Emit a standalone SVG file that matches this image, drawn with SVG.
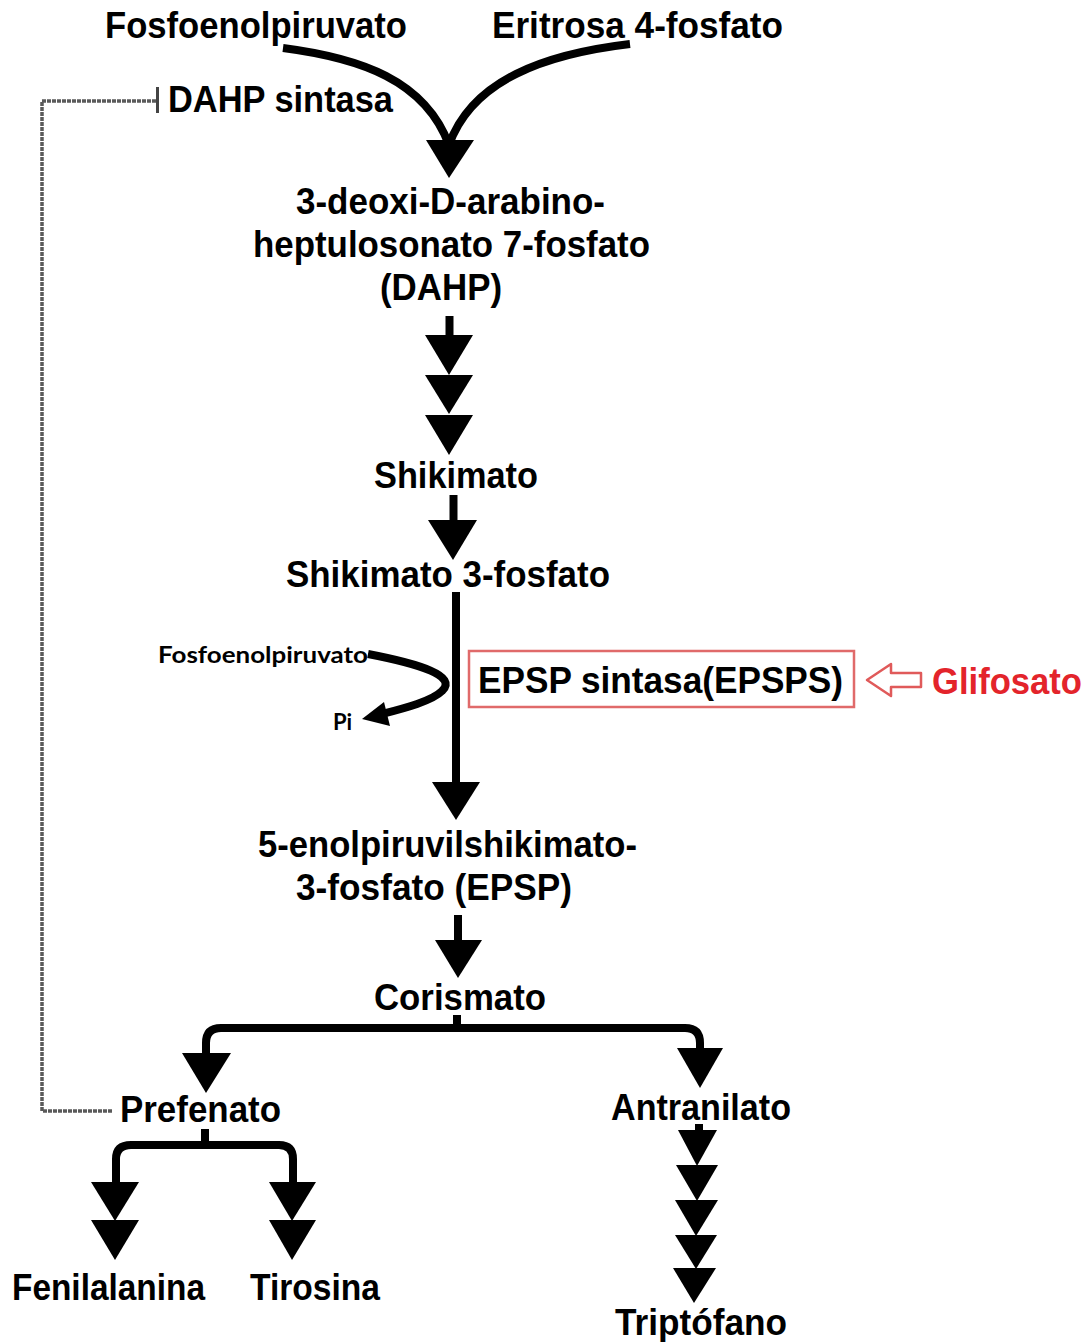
<svg xmlns="http://www.w3.org/2000/svg" width="1088" height="1342" viewBox="0 0 1088 1342">
<style>
.t{font-family:"Liberation Sans",Arial,sans-serif;font-weight:bold;font-size:36px;fill:#000}
.s{font-family:Lato,"Liberation Sans",sans-serif;font-weight:bold;font-size:22px;fill:#000}
.r{fill:#e3242b}
.ln{fill:none;stroke:#000;stroke-width:8}
.hd{fill:#000}
.inh{fill:none;stroke:#5a5a5a;stroke-width:3.5;stroke-dasharray:4 1}
</style>
<rect width="1088" height="1342" fill="#fff"/>
<g id="connectors">
  <path class="ln" d="M283,48 C360,58 425,80 449,145"/>
  <path class="ln" d="M630,44 C545,54 472,80 449,145"/>
  <polygon class="hd" points="426,140 474,140 449,178"/>
  <path class="ln" d="M449.5,316 V338" stroke-width="7"/>
  <polygon class="hd" points="425,335 473,335 449,375"/>
  <polygon class="hd" points="425,375 473,375 449,414"/>
  <polygon class="hd" points="425,415 473,415 449,455"/>
  <path class="ln" d="M453.5,495 V524" stroke-width="7"/>
  <polygon class="hd" points="428,520 477,520 453,560"/>
  <path class="ln" d="M456,592 V786"/>
  <polygon class="hd" points="432,782 480,782 456,820"/>
  <path class="ln" d="M368,654 C420,664 458,676 442,691 C432,701 405,708 382,714" stroke-width="4"/>
  <polygon class="hd" points="362,719 384,702 390,726"/>
  <path class="ln" d="M458,915 V944" stroke-width="7"/>
  <polygon class="hd" points="435,940 482,940 458,978"/>
  <path class="ln" d="M457,1015 V1030"/>
  <path class="ln" d="M206,1056 V1043 Q206,1028 221,1028 H685 Q700,1028 700,1043 V1050"/>
  <polygon class="hd" points="182,1053 231,1053 206,1093"/>
  <polygon class="hd" points="677,1048 723,1048 700,1088"/>
  <path class="ln" d="M205,1129 V1146"/>
  <path class="ln" d="M116,1185 V1159 Q116,1145 131,1145 H279 Q293,1145 293,1159 V1185"/>
  <polygon class="hd" points="91,1182 139,1182 115,1221"/>
  <polygon class="hd" points="91,1220 139,1220 115,1260"/>
  <polygon class="hd" points="269,1182 316,1182 292,1221"/>
  <polygon class="hd" points="269,1220 316,1220 292,1260"/>
  <path class="ln" d="M699,1124 V1136" stroke-width="6"/>
  <polygon class="hd" points="678,1130 717,1130 697,1166"/>
  <polygon class="hd" points="676,1165 718,1165 697,1201"/>
  <polygon class="hd" points="675,1200 718,1200 696,1236"/>
  <polygon class="hd" points="675,1235 717,1235 696,1269"/>
  <polygon class="hd" points="673,1268 716,1268 694,1303"/>
  <path class="inh" d="M112,1111 H42 V101 H157"/>
  <path d="M157.5,87 V113" stroke="#444" stroke-width="3"/>
  <path d="M921,673 H891 V664 L867,680 L891,696 V687 H921 Z" fill="#fff" stroke="#e05a5a" stroke-width="2.5" stroke-linejoin="round"/>
</g>
<g id="n-pep"><text class="t" x="105" y="38" textLength="302" lengthAdjust="spacingAndGlyphs">Fosfoenolpiruvato</text></g>
<g id="n-e4p"><text class="t" x="492" y="38" textLength="291" lengthAdjust="spacingAndGlyphs">Eritrosa 4-fosfato</text></g>
<g id="n-dahps"><text class="t" x="168" y="112" textLength="225" lengthAdjust="spacingAndGlyphs">DAHP sintasa</text></g>
<g id="n-dahp">
  <text class="t" x="296" y="214" textLength="309" lengthAdjust="spacingAndGlyphs">3-deoxi-D-arabino-</text>
  <text class="t" x="253" y="257" textLength="397" lengthAdjust="spacingAndGlyphs">heptulosonato 7-fosfato</text>
  <text class="t" x="380" y="300" textLength="122" lengthAdjust="spacingAndGlyphs">(DAHP)</text>
</g>
<g id="n-shik"><text class="t" x="374" y="488" textLength="164" lengthAdjust="spacingAndGlyphs">Shikimato</text></g>
<g id="n-s3p"><text class="t" x="286" y="587" textLength="324" lengthAdjust="spacingAndGlyphs">Shikimato 3-fosfato</text></g>
<g id="n-pep2"><text class="s" x="158" y="663" textLength="210" lengthAdjust="spacingAndGlyphs">Fosfoenolpiruvato</text></g>
<g id="n-pi"><text class="s" x="333" y="730">Pi</text></g>
<g id="n-epsps">
  <rect x="469" y="651" width="385" height="56" fill="#fff" stroke="#e06a6a" stroke-width="2.5"/>
  <text class="t" x="478" y="693" textLength="365" lengthAdjust="spacingAndGlyphs">EPSP sintasa(EPSPS)</text>
</g>
<g id="n-glif"><text class="t r" x="932" y="694" textLength="150" lengthAdjust="spacingAndGlyphs">Glifosato</text></g>
<g id="n-epsp">
  <text class="t" x="258" y="857" textLength="379" lengthAdjust="spacingAndGlyphs">5-enolpiruvilshikimato-</text>
  <text class="t" x="296" y="900" textLength="276" lengthAdjust="spacingAndGlyphs">3-fosfato (EPSP)</text>
</g>
<g id="n-cor"><text class="t" x="374" y="1010" textLength="172" lengthAdjust="spacingAndGlyphs">Corismato</text></g>
<g id="n-pref"><text class="t" x="120" y="1122" textLength="161" lengthAdjust="spacingAndGlyphs">Prefenato</text></g>
<g id="n-antr"><text class="t" x="611" y="1120" textLength="180" lengthAdjust="spacingAndGlyphs">Antranilato</text></g>
<g id="n-phe"><text class="t" x="12" y="1300" textLength="193" lengthAdjust="spacingAndGlyphs">Fenilalanina</text></g>
<g id="n-tyr"><text class="t" x="250" y="1300" textLength="130" lengthAdjust="spacingAndGlyphs">Tirosina</text></g>
<g id="n-trp"><text class="t" x="615" y="1335" textLength="172" lengthAdjust="spacingAndGlyphs">Triptófano</text></g>
</svg>
